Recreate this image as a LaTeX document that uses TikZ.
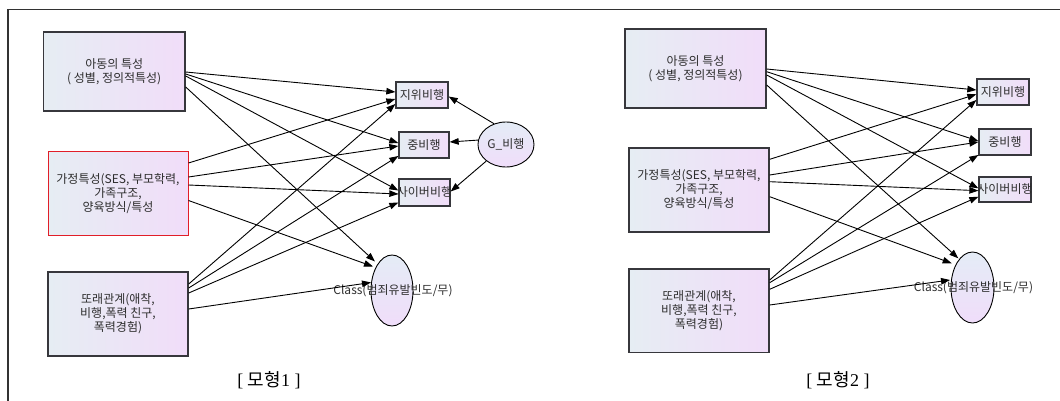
\documentclass[tikz,border=0pt]{standalone}
\usepackage{fontspec}
\setmainfont{Liberation Serif}
\newfontfamily\kr{Noto Sans CJK KR}
\usetikzlibrary{arrows.meta,shapes.geometric,calc}
\definecolor{boxL}{RGB}{230,237,243}
\definecolor{boxR}{RGB}{241,221,249}
\definecolor{ellT}{RGB}{228,236,246}
\definecolor{ellB}{RGB}{240,221,250}
\definecolor{lineC}{RGB}{55,55,60}
\definecolor{txt}{RGB}{45,45,45}
\definecolor{redb}{RGB}{225,30,40}
\definecolor{frameC}{RGB}{50,50,50}
\tikzset{
  lbl/.style={font=\kr\fontsize{12}{14}\selectfont, text=txt, align=center},
  box/.style={draw=lineC, line width=1.4pt, left color=boxL, right color=boxR, inner sep=0pt, lbl},
  redbox/.style={box, draw=redb, line width=1pt},
  smallbox/.style={box, line width=1.3pt, label={[lbl]center:#1}},
  ell/.style={ellipse, draw=black, line width=0.9pt, top color=ellT, bottom color=ellB, inner sep=0pt},
  arr/.style={-{Triangle[length=9pt,width=6.5pt]}, line width=0.9pt, draw=black},
  caption/.style={font=\fontsize{18}{20}\selectfont, text=black}
}
\begin{document}
\begin{tikzpicture}[x=1pt,y=-1pt]
\useasboundingbox (0,0) rectangle (1060,401);
\draw[line width=1.5pt, frameC] (1060,9.5) -- (8,9.5) -- (8,401);

% ---------- Model 1 ----------
\node[box, minimum width=141.5pt, minimum height=79pt] (A1) at (114.25,71.5) {아동의 특성\\( 성별, 정의적특성)};
\node[redbox, minimum width=140pt, minimum height=83pt] (B1) at (118,193.5) {가정특성(SES, 부모학력,\\가족구조,\\양육방식/특성};
\node[box, minimum width=140pt, minimum height=84pt] (C1) at (118,314) {또래관계(애착,\\비행,폭력 친구,\\폭력경험)};
\node[smallbox=지위비행, minimum width=52pt, minimum height=26pt] (J1) at (422,95) {};
\node[smallbox=중비행, minimum width=50pt, minimum height=26pt] (M1) at (424,145) {};
\node[smallbox=사이버비행, minimum width=51pt, minimum height=27pt] (Y1) at (424.5,192.5) {};
\node[ell, minimum width=56pt, minimum height=45pt, label={[lbl]center:G\_비행}] (G1) at (506,144.5) {};
\node[ell, minimum width=42pt, minimum height=71pt, label={[lbl, xshift=1pt]center:Class(범죄유발빈도/무)}] (K1) at (392,290.5) {};

\draw[arr] ($(A1.east)+(0,0.5)$) -- ($(J1.west)+(0,-3)$);
\draw[arr] ($(A1.east)+(0,2.5)$) -- ($(M1.west)+(0,-2)$);
\draw[arr] ($(A1.east)+(0,4.5)$) -- ($(Y1.west)+(0,-2)$);
\draw[arr] ($(A1.east)+(0,15.5)$) -- ($(K1.center)+(-17,-29)$);
\draw[arr] ($(B1.east)+(0,-30.5)$) -- ($(J1.west)+(0,4)$);
\draw[arr] ($(B1.east)+(0,-16.5)$) -- ($(M1.west)+(0,1)$);
\draw[arr] ($(B1.east)+(0,-8.5)$) -- ($(Y1.west)+(0,1.5)$);
\draw[arr] ($(B1.east)+(0,7)$) -- ($(K1.center)+(-19,-24)$);
\draw[arr] ($(C1.east)+(0,-30)$) -- ($(J1.west)+(0,9)$);
\draw[arr] ($(C1.east)+(0,-26)$) -- ($(M1.west)+(0,11)$);
\draw[arr] ($(C1.east)+(0,-21)$) -- ($(Y1.west)+(0,10)$);
\draw[arr] ($(C1.east)+(0,-5)$) -- ($(K1.center)+(-21,-8)$);
\draw[arr] (G1.120) -- ($(J1.east)+(0,1.5)$);
\draw[arr] (G1.171) -- ($(M1.east)+(0,-3)$);
\draw[arr] (G1.220) -- ($(Y1.east)+(0,-1)$);

\node[caption] (cap1) at (269,380) {[ {\kr 모형}1 ]};

% ---------- Model 2 ----------
\node[box, minimum width=141pt, minimum height=79pt] (A2) at (695.5,68.5) {아동의 특성\\( 성별, 정의적특성)};
\node[box, minimum width=140pt, minimum height=84pt] (B2) at (699,190) {가정특성(SES, 부모학력,\\가족구조,\\양육방식/특성};
\node[box, minimum width=140pt, minimum height=83.5pt] (C2) at (699,310.7) {또래관계(애착,\\비행,폭력 친구,\\폭력경험)};
\node[smallbox=지위비행, minimum width=52pt, minimum height=26pt] (J2) at (1003,92) {};
\node[smallbox=중비행, minimum width=52pt, minimum height=26pt] (M2) at (1005,142) {};
\node[smallbox=사이버비행, minimum width=52pt, minimum height=25pt] (Y2) at (1005,189.5) {};
\node[ell, minimum width=43pt, minimum height=71pt, label={[lbl, xshift=1pt]center:Class(범죄유발빈도/무)}] (K2) at (972.5,287.5) {};

\draw[arr] ($(A2.east)+(0,0.5)$) -- ($(J2.west)+(0,-2)$);
\draw[arr] ($(A2.east)+(0,3.2)$) -- ($(M2.west)+(0,-1)$);
\draw[arr] ($(A2.east)+(0,6.5)$) -- ($(Y2.west)+(0,-1.2)$);
\draw[arr] ($(A2.east)+(0,16.5)$) -- ($(K2.center)+(-14.2,-29.2)$);
\draw[arr] ($(B2.east)+(0,-30.7)$) -- ($(J2.west)+(0,2.3)$);
\draw[arr] ($(B2.east)+(0,-15)$) -- ($(M2.west)+(0,0)$);
\draw[arr] ($(B2.east)+(0,-8.3)$) -- ($(Y2.west)+(0,1.2)$);
\draw[arr] ($(B2.east)+(0,6.7)$) -- ($(K2.center)+(-20.8,-24.2)$);
\draw[arr] ($(C2.east)+(0,-30.7)$) -- ($(J2.west)+(0,8)$);
\draw[arr] ($(C2.east)+(0,-28)$) -- ($(M2.west)+(0,13)$);
\draw[arr] ($(C2.east)+(0,-21.4)$) -- ($(Y2.west)+(0,7.2)$);
\draw[arr] ($(C2.east)+(0,-5.7)$) -- ($(K2.center)+(-22.5,-7.5)$);

\node[caption] (cap2) at (838,380) {[ {\kr 모형}2 ]};
\end{tikzpicture}
\end{document}
